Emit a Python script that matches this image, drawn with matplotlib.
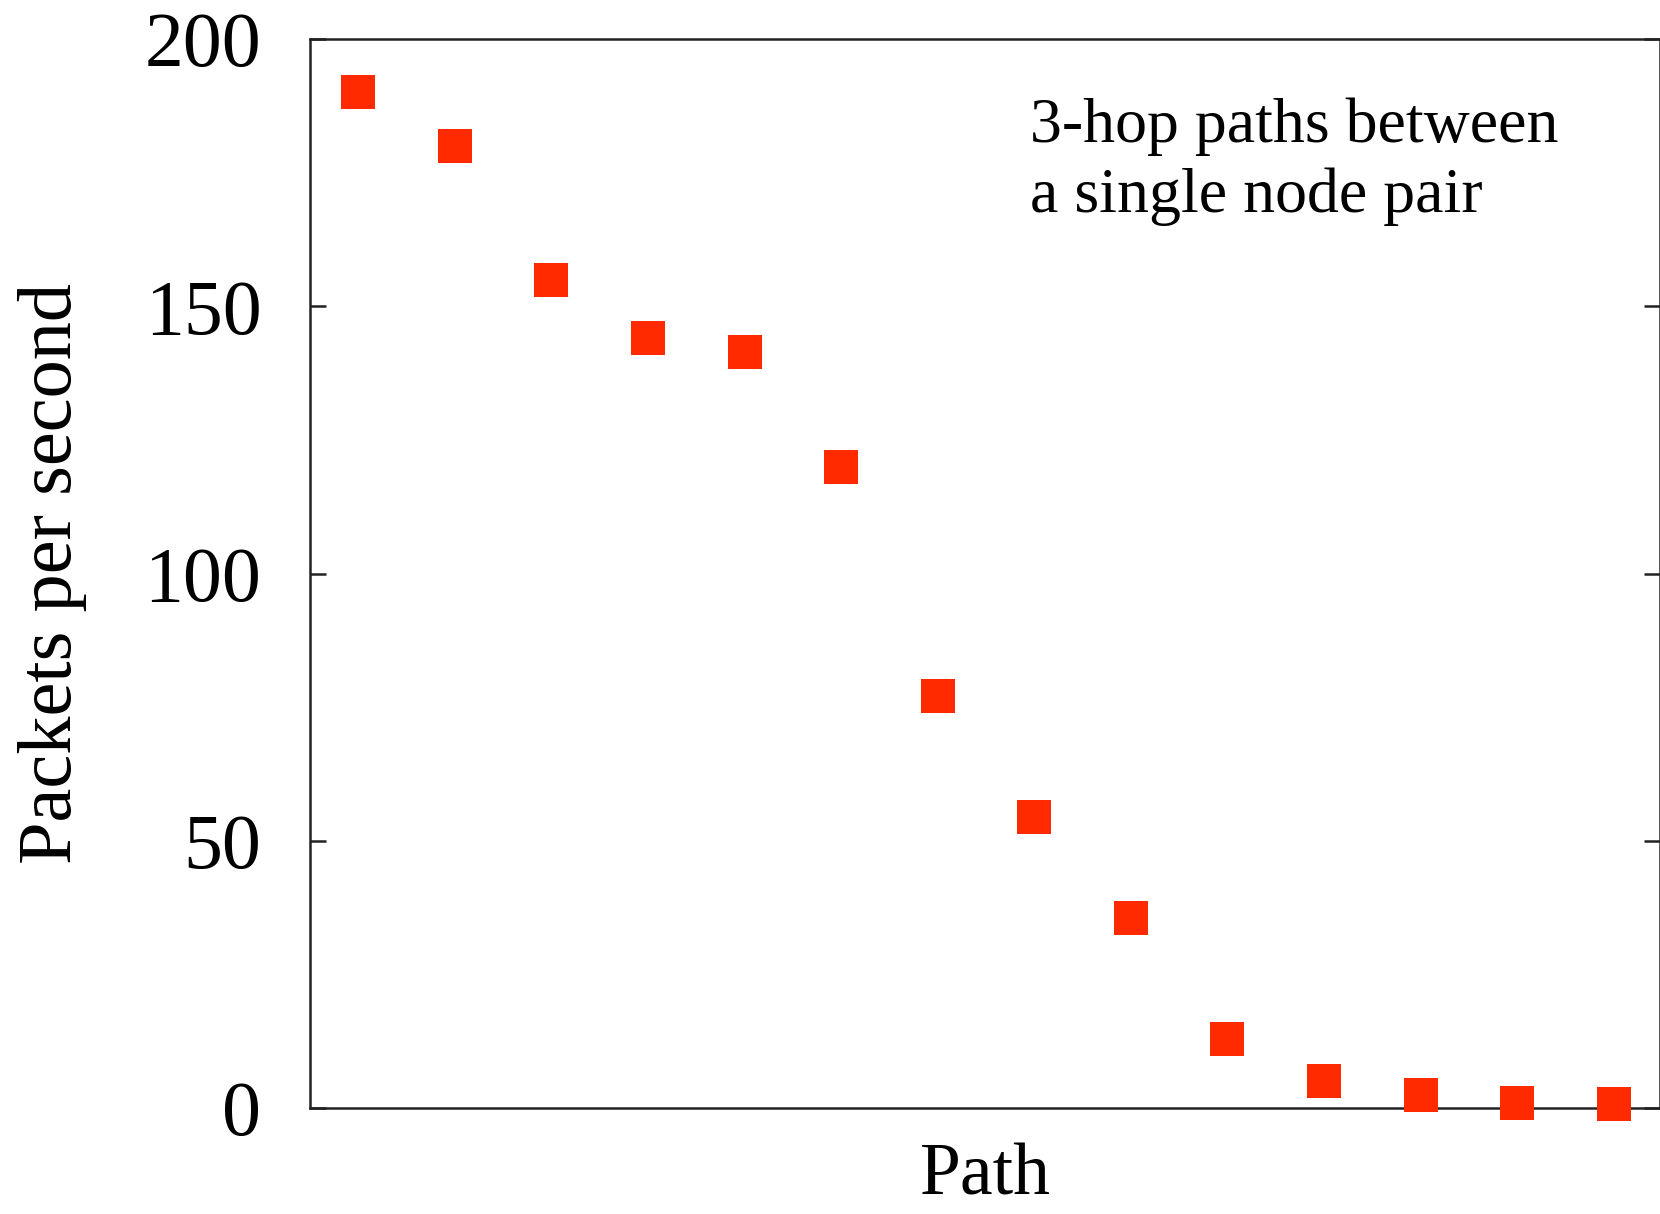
import matplotlib.pyplot as plt

# packets per second for each 3-hop path, sorted high to low
paths = list(range(1, 15))
pps = [190, 180, 155, 144, 141.5, 120, 77, 54.5, 35.5, 13, 5, 2.5, 1, 0.8]

plt.rcParams['font.family'] = ['Liberation Serif', 'DejaVu Serif']

fig = plt.figure(figsize=(16.6, 12.14), dpi=100)
ax = fig.add_axes([310 / 1660, 1 - 1108 / 1214, 1 - 310 / 1660, (1108 - 39) / 1214])

ax.plot(paths, pps, linestyle='none', marker='s', markersize=24.5,
        color='#ff2a00', markeredgewidth=0, clip_on=False, zorder=3)

ax.set_xlim(0.5, 14.48)
ax.set_ylim(0, 200)
ax.set_yticks([0, 50, 100, 150, 200])
ax.set_xticks([])
ax.tick_params(axis='y', direction='in', length=11.5, width=1.8,
               labelsize=56, pad=35, right=True, color='#222222')
for s in ax.spines.values():
    s.set_linewidth(1.8)
    s.set_color('#222222')

# keep "Path" just inside the bottom edge
ax.set_xlabel('Path', fontsize=53, va='bottom')
ax.xaxis.set_label_coords(0.5, -0.0955)
ax.set_ylabel('Packets per second', fontsize=55)
ax.yaxis.set_label_coords(-0.165, 0.5)

ax.text(1030 / 1660, 1 - 212 / 1214, '3-hop paths between\na single node pair',
        transform=fig.transFigure, fontsize=46, va='baseline', ha='left',
        linespacing=1.25)

fig.savefig('out.png', dpi=100)
